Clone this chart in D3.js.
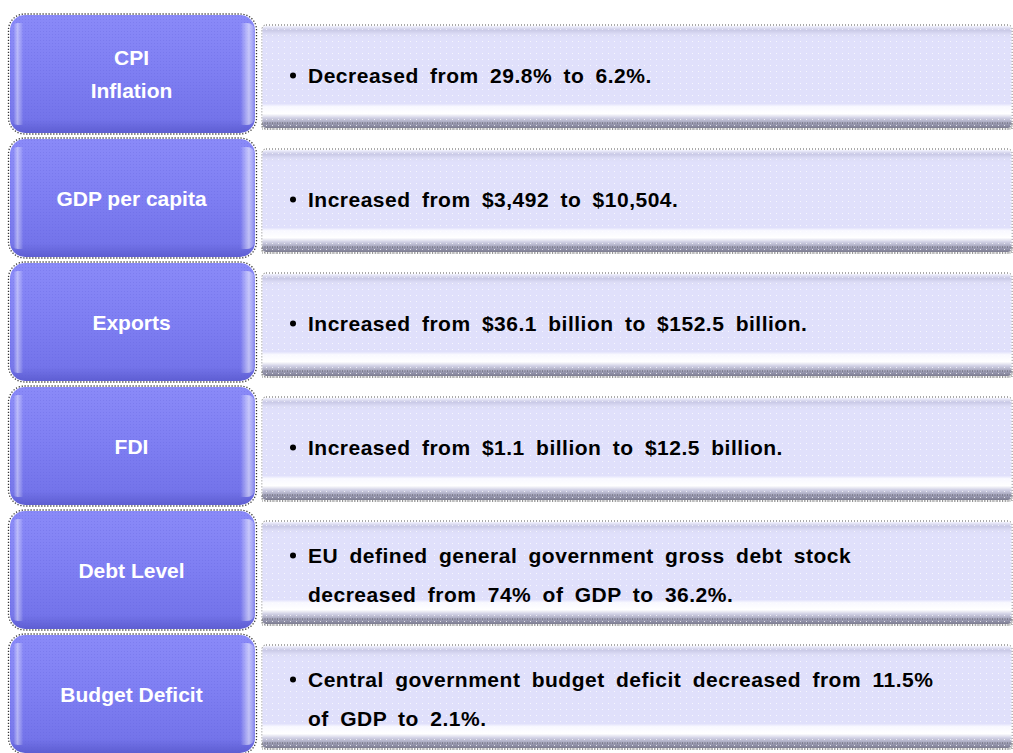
<!DOCTYPE html>
<html>
<head>
<meta charset="utf-8">
<script src="https://cdn.jsdelivr.net/npm/d3@7"></script>
<style>
  html, body { margin: 0; padding: 0; background: #fff; }
  svg { display: block; font-family: "Liberation Sans", Arial, sans-serif; font-weight: bold; }
</style>
</head>
<body>
<svg id="chart" width="1013" height="753"></svg>
<script>
// indicator names (left boxes), one entry per line
const indicators = [
  ["CPI", "Inflation"],
  ["GDP per capita"],
  ["Exports"],
  ["FDI"],
  ["Debt Level"],
  ["Budget Deficit"]
]
// descriptions (right boxes), one entry per line
const descriptions = [
  ["Decreased from 29.8% to 6.2%."],
  ["Increased from $3,492 to $10,504."],
  ["Increased from $36.1 billion to $152.5 billion."],
  ["Increased from $1.1 billion to $12.5 billion."],
  ["EU defined general government gross debt stock", "decreased from 74% of GDP to 36.2%."],
  ["Central government budget deficit decreased from 11.5%", "of GDP to 2.1%."]
]

const rows = indicators.map((d, i) => ({ id: i, label: d, text: descriptions[i] }))

const dims = {
  leftX: 10,
  leftW: 245,
  rightX: 262,
  rightW: 750
}

const svg = d3.select("#chart")
const defs = svg.append("defs")

const y = d3.scaleBand()
  .domain(rows.map(d => d.id))
  .range([15, 753])
  .paddingInner(6 / 124)

// gradients + patterns
const blue = defs.append("linearGradient").attr("id", "blueV").attr("x1", 0).attr("y1", 0).attr("x2", 0).attr("y2", 1)
blue.append("stop").attr("offset", "0%").attr("stop-color", "#8a8af8")
blue.append("stop").attr("offset", "50%").attr("stop-color", "#7e7ef2")
blue.append("stop").attr("offset", "88%").attr("stop-color", "#7474ea")
blue.append("stop").attr("offset", "100%").attr("stop-color", "#5e5ed2")

const blueH = defs.append("linearGradient").attr("id", "blueH").attr("x1", 0).attr("y1", 0).attr("x2", 1).attr("y2", 0)
blueH.append("stop").attr("offset", "0%").attr("stop-color", "#ffffff").attr("stop-opacity", 0)
blueH.append("stop").attr("offset", "1.5%").attr("stop-color", "#ffffff").attr("stop-opacity", 0.05)
blueH.append("stop").attr("offset", "3%").attr("stop-color", "#ffffff").attr("stop-opacity", 0.45)
blueH.append("stop").attr("offset", "5.5%").attr("stop-color", "#ffffff").attr("stop-opacity", 0)
blueH.append("stop").attr("offset", "94%").attr("stop-color", "#ffffff").attr("stop-opacity", 0)
blueH.append("stop").attr("offset", "97.5%").attr("stop-color", "#ffffff").attr("stop-opacity", 0.55)
blueH.append("stop").attr("offset", "100%").attr("stop-color", "#ffffff").attr("stop-opacity", 0.1)

const lav = defs.append("linearGradient").attr("id", "lavV").attr("x1", 0).attr("y1", 0).attr("x2", 0).attr("y2", 1)
lav.append("stop").attr("offset", "0%").attr("stop-color", "#f4f4ff")
lav.append("stop").attr("offset", "4%").attr("stop-color", "#c9c9e6")
lav.append("stop").attr("offset", "8%").attr("stop-color", "#dcdcf6")
lav.append("stop").attr("offset", "12%").attr("stop-color", "#e0e0fb")
lav.append("stop").attr("offset", "76%").attr("stop-color", "#e0e0fb")
lav.append("stop").attr("offset", "79%").attr("stop-color", "#f8f8ff")
lav.append("stop").attr("offset", "86%").attr("stop-color", "#ffffff")
lav.append("stop").attr("offset", "90%").attr("stop-color", "#d2d2e6")
lav.append("stop").attr("offset", "96%").attr("stop-color", "#9a9ab2")
lav.append("stop").attr("offset", "100%").attr("stop-color", "#7c7c90")

const dots = defs.append("pattern").attr("id", "dots")
  .attr("patternUnits", "userSpaceOnUse").attr("width", 6).attr("height", 6)
dots.append("rect").attr("x", 2).attr("y", 2).attr("width", 1).attr("height", 1).attr("fill", "#ffffff").attr("opacity", 0.75)

const dotsBlue = defs.append("pattern").attr("id", "dotsBlue")
  .attr("patternUnits", "userSpaceOnUse").attr("width", 3).attr("height", 3)
dotsBlue.append("rect").attr("x", 1).attr("y", 1).attr("width", 1).attr("height", 1).attr("fill", "#5d5dd8").attr("opacity", 0.25)

const row = svg.selectAll("g.row")
  .data(rows)
  .join("g")
    .attr("class", "row")
    .attr("transform", d => `translate(0, ${y(d.id)})`)

const bh = y.bandwidth()

// left boxes
row.append("rect")
  .attr("x", dims.leftX - 1.5).attr("y", -1).attr("width", dims.leftW + 3).attr("height", bh + 2)
  .attr("rx", 16)
  .attr("fill", "none").attr("stroke", "#333").attr("stroke-width", 1.3).attr("stroke-dasharray", "1.2,1.8")
row.append("rect")
  .attr("x", dims.leftX).attr("y", 0).attr("width", dims.leftW).attr("height", bh)
  .attr("rx", 15).attr("fill", "url(#blueV)")
row.append("rect")
  .attr("x", dims.leftX).attr("y", 0).attr("width", dims.leftW).attr("height", bh)
  .attr("rx", 15).attr("fill", "url(#dotsBlue)")
row.append("rect")
  .attr("x", dims.leftX).attr("y", 8).attr("width", dims.leftW).attr("height", bh - 16)
  .attr("rx", 8).attr("fill", "url(#blueH)")

row.append("text")
  .attr("fill", "#ffffff")
  .attr("font-size", 21)
  .attr("text-anchor", "middle")
  .selectAll("tspan")
  .data(d => d.label.map((t, j, arr) => ({ t, j, n: arr.length })))
  .join("tspan")
    .attr("x", dims.leftX + dims.leftW / 2 - 1)
    .attr("y", d => (d.n === 1 ? 67 : 50 + d.j * 33))
    .text(d => d.t)

// right boxes
const rTop = 10
const rH = 104
row.append("rect")
  .attr("x", dims.rightX).attr("y", rTop).attr("width", dims.rightW).attr("height", rH)
  .attr("rx", 4)
  .attr("fill", "none").attr("stroke", "#555").attr("stroke-width", 1).attr("stroke-dasharray", "1,2")
row.append("rect")
  .attr("x", dims.rightX + 0.5).attr("y", rTop + 1).attr("width", dims.rightW - 1).attr("height", rH - 2)
  .attr("rx", 4).attr("fill", "url(#lavV)")
row.append("rect")
  .attr("x", dims.rightX + 0.5).attr("y", rTop + 1).attr("width", dims.rightW - 1).attr("height", rH - 2)
  .attr("rx", 4).attr("fill", "url(#dots)")
row.append("rect")
  .attr("x", dims.rightX).attr("y", rTop + rH - 6).attr("width", dims.rightW).attr("height", 6)
  .attr("fill", "none").attr("stroke", "#333").attr("stroke-width", 1.2).attr("stroke-dasharray", "1,1.5").attr("opacity", 0.6)

const baseY = (j, n) => (n === 1 ? 68 : 52 + j * 39)

const txt = row.append("g")
txt.append("circle")
  .attr("cx", 293)
  .attr("cy", d => baseY(0, d.text.length) - 7.5)
  .attr("r", 3)
  .attr("fill", "#000")
txt.append("text")
  .attr("fill", "#000")
  .attr("font-size", 21)
  .attr("letter-spacing", 0.5)
  .attr("word-spacing", 5)
  .selectAll("tspan")
  .data(d => d.text.map((t, j, arr) => ({ t, j, n: arr.length })))
  .join("tspan")
    .attr("x", 308)
    .attr("y", d => baseY(d.j, d.n))
    .text(d => d.t)
</script>
</body>
</html>
